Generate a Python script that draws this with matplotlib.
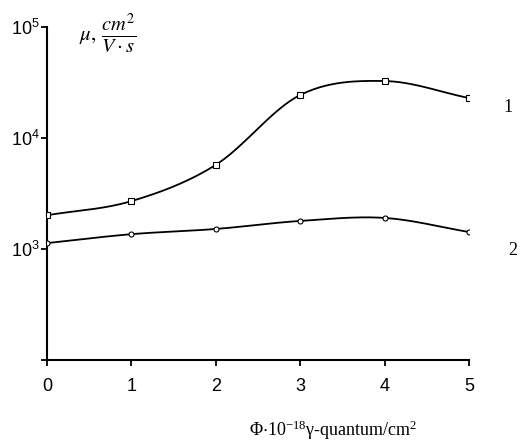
import numpy as np
import matplotlib
matplotlib.use("Agg")
import matplotlib.pyplot as plt

plt.rcParams['mathtext.fontset'] = 'custom'
plt.rcParams['mathtext.rm'] = 'Liberation Sans'
plt.rcParams['mathtext.it'] = 'Liberation Sans:italic'
plt.rcParams['font.family'] = ['Liberation Sans', 'DejaVu Sans']

# Data
fluence = [0, 1, 2, 3, 4, 5]
mobility_1 = [2015, 2700, 5730, 24400, 32600, 22900]
mobility_2 = [1130, 1360, 1515, 1790, 1905, 1423]
x_ticks = [0, 1, 2, 3, 4, 5]
y_ticks = [1e2, 1e3, 1e4, 1e5]
y_tick_labels = ['', r'$\mathregular{10^{3}}$', r'$\mathregular{10^{4}}$', r'$\mathregular{10^{5}}$']
curve_labels = ['1', '2']


def catmull_rom(x, y, n=30):
    x = np.asarray(x, float)
    y = np.asarray(y, float)
    px = np.concatenate([[2 * x[0] - x[1]], x, [2 * x[-1] - x[-2]]])
    py = np.concatenate([[2 * y[0] - y[1]], y, [2 * y[-1] - y[-2]]])
    xs, ys = [], []
    for i in range(1, len(px) - 2):
        t = np.linspace(0, 1, n, endpoint=(i == len(px) - 3))
        p0, p1, p2, p3 = (np.array([px[j], py[j]]) for j in range(i - 1, i + 3))
        tt = t[:, None]
        pts = 0.5 * ((2 * p1) + (-p0 + p2) * tt + (2 * p0 - 5 * p1 + 4 * p2 - p3) * tt ** 2
                     + (-p0 + 3 * p1 - 3 * p2 + p3) * tt ** 3)
        xs.append(pts[:, 0])
        ys.append(pts[:, 1])
    return np.concatenate(xs), np.concatenate(ys)


fig = plt.figure(figsize=(5.31, 4.44), dpi=100)
ax = fig.add_axes([47 / 531, 1 - 360 / 444, (469 - 47) / 531, (360 - 27) / 444])

for vals, marker, ms in [(mobility_1, 's', 4.2), (mobility_2, 'o', 3.6)]:
    sx, sy = catmull_rom(fluence, np.log10(vals))
    ax.plot(sx, 10 ** sy, color='black', lw=1.3, zorder=2)
    ax.plot(fluence, vals, linestyle='none', marker=marker, ms=ms, mfc='white',
            mec='black', mew=0.8, zorder=3)

ax.set_yscale('log')
ax.set_xlim(0, 5)
ax.set_ylim(1e2, 1e5)
ax.set_xticks(x_ticks)
ax.set_xticklabels([str(v) for v in x_ticks])
ax.set_yticks(y_ticks)
ax.set_yticklabels(y_tick_labels)
ax.yaxis.set_minor_locator(matplotlib.ticker.NullLocator())
ax.spines['top'].set_visible(False)
ax.spines['right'].set_visible(False)
for s in ['left', 'bottom']:
    ax.spines[s].set_linewidth(1.5)
ax.tick_params(axis='both', which='major', length=4, width=1.3, labelsize=13, direction='out')
ax.tick_params(axis='x', pad=9)
ax.tick_params(axis='y', pad=1)

fig.text(88 / 531, 1 - 36 / 444, r'$\mu,$', fontsize=15,
         math_fontfamily='stix', ha='center', va='center')
fig.text(119 / 531, 1 - 33 / 444, r'$\frac{cm^2}{V\cdot s}$', fontsize=21,
         math_fontfamily='stix', ha='center', va='center')
fig.text(508 / 531, 1 - 108 / 444, curve_labels[0], fontsize=13, family='Liberation Serif',
         ha='center', va='center')
fig.text(513 / 531, 1 - 250 / 444, curve_labels[1], fontsize=13, family='Liberation Serif',
         ha='center', va='center')
fig.text(333 / 531, 1 - 430 / 444, r'$\mathregular{\Phi{\cdot}10^{-18}}$' + 'γ-quantum/cm' + r'$\mathregular{^2}$',
         fontsize=13, family='Liberation Serif', math_fontfamily='stix', ha='center', va='center')

fig.savefig('out.png', dpi=100)
